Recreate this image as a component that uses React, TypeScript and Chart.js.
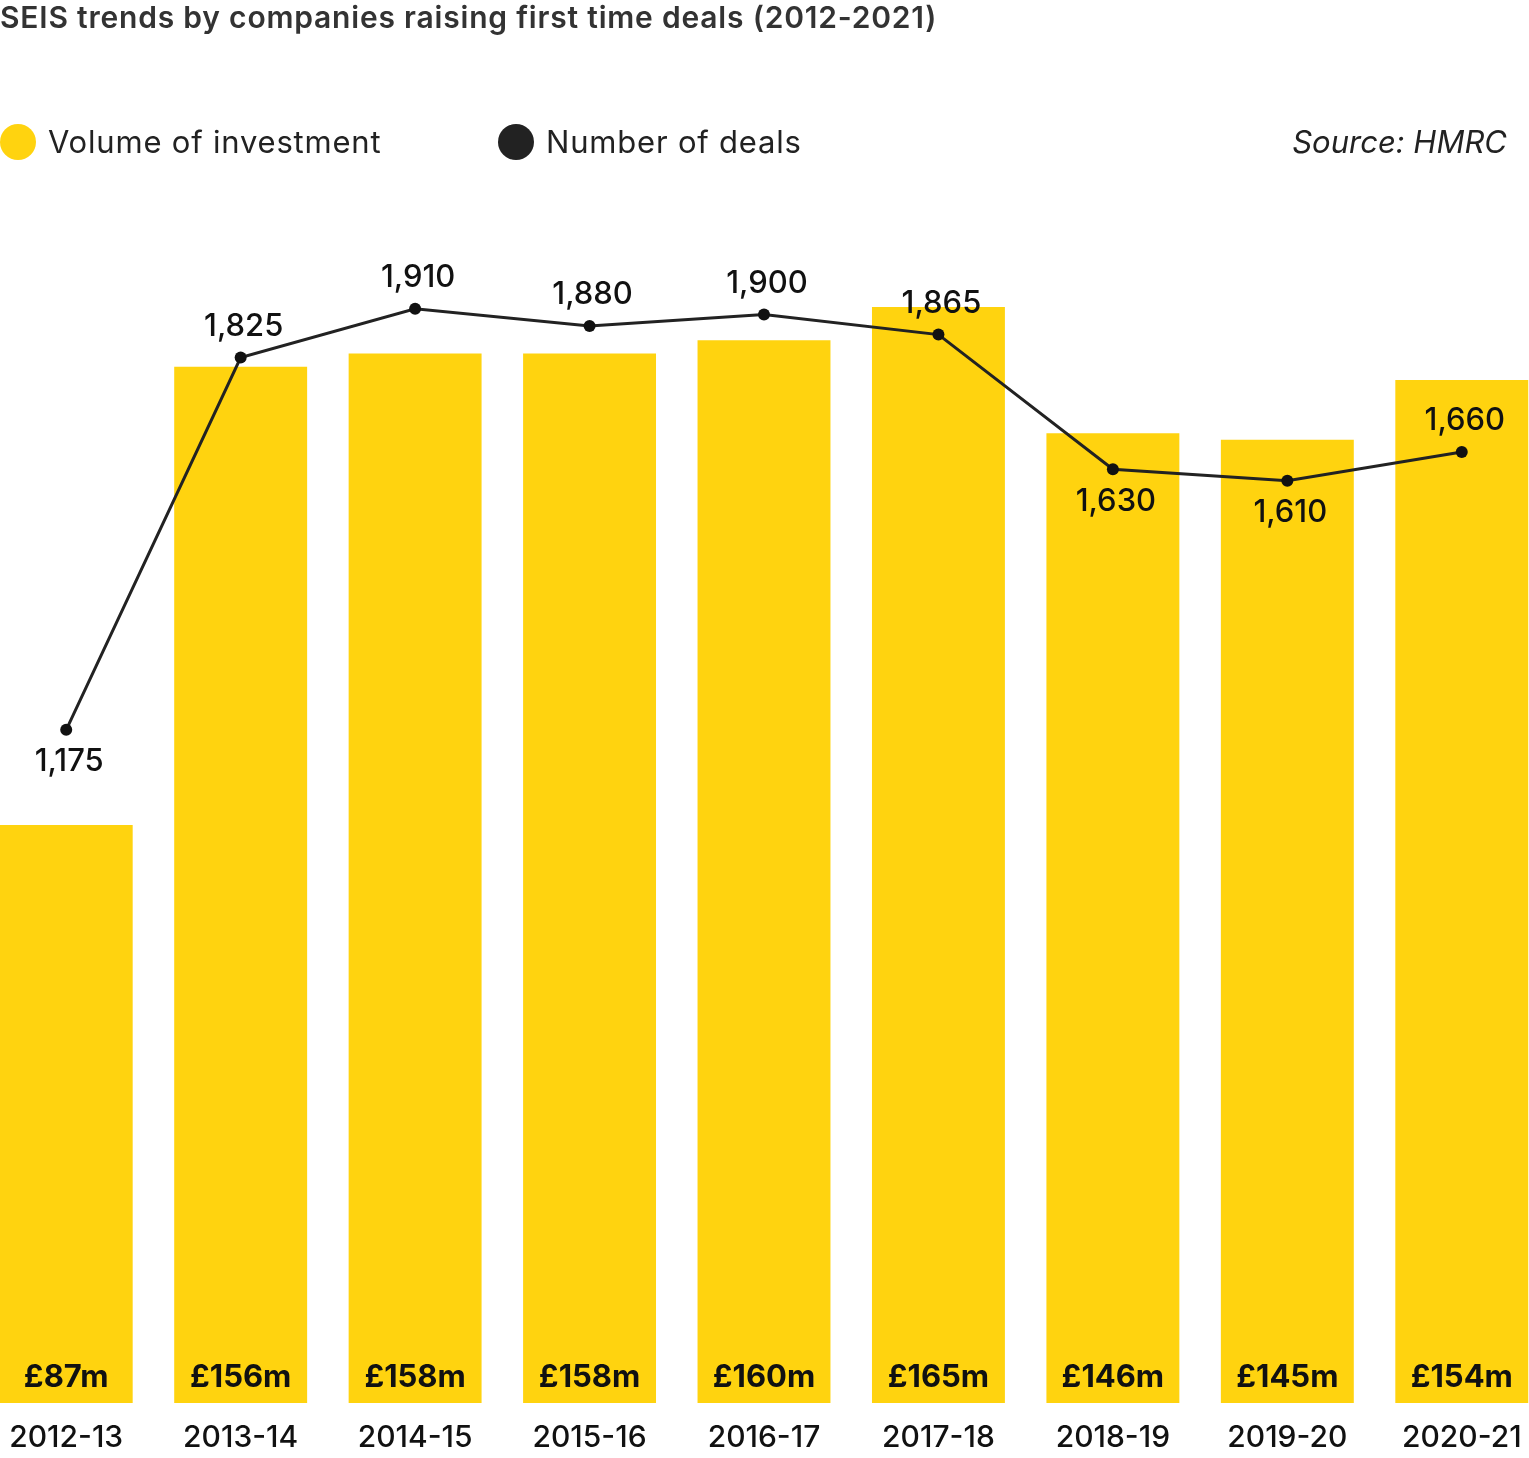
import React, { useEffect, useRef } from "react";
import { Chart, registerables } from "chart.js";
Chart.register(...registerables);

const categories = ["2012-13","2013-14","2014-15","2015-16","2016-17","2017-18","2018-19","2019-20","2020-21"];
const investment = [87,156,158,158,160,165,146,145,154];
const deals = [1175,1825,1910,1880,1900,1865,1630,1610,1660];
const dealLabelBelow = [true,false,false,false,false,false,true,true,false];

const FONT = "Inter, 'Open Sans', sans-serif";

export default function App() {
  const ref = useRef<HTMLCanvasElement>(null);
  useEffect(() => {
    document.body.style.margin = "0";
    document.body.style.overflow = "hidden";
    const labelsPlugin = {
      id: "labels",
      afterDatasetsDraw(chart: any) {
        const ctx = chart.ctx;
        ctx.save();
        ctx.textAlign = "center";
        ctx.textBaseline = "middle";
        ctx.fillStyle = "#111";
        const bars = chart.getDatasetMeta(0).data;
        const pts = chart.getDatasetMeta(1).data;
        const bottom = chart.chartArea.bottom;
        bars.forEach((b: any, i: number) => {
          ctx.font = `bold 31px ${FONT}`;
          ctx.fillText(`£${investment[i]}m`, b.x, bottom - 25);
          ctx.font = `500 30px ${FONT}`;
          ctx.fillText(categories[i], b.x, bottom + 35);
        });
        ctx.font = `500 31px ${FONT}`;
        pts.forEach((p: any, i: number) => {
          const dy = dealLabelBelow[i] ? 32 : -31;
          ctx.fillText(deals[i].toLocaleString("en-GB"), p.x + 3, p.y + dy);
        });
        ctx.restore();
      },
    };
    const chart = new Chart(ref.current!, {
      type: "bar",
      data: {
        labels: categories,
        datasets: [
          { type: "bar", label: "Volume of investment", data: investment, yAxisID: "y", backgroundColor: "#FFD30F", barPercentage: 0.762, categoryPercentage: 1, order: 1 },
          { type: "line", label: "Number of deals", data: deals, yAxisID: "y2", borderColor: "#222", borderWidth: 3, pointRadius: 6, pointBackgroundColor: "#111", pointBorderWidth: 0, order: 0 } as any,
        ],
      },
      options: {
        animation: false,
        responsive: false,
        layout: { padding: { top: 220, bottom: 55, left: 0, right: 0 } },
        plugins: { legend: { display: false }, tooltip: { enabled: false } },
        scales: {
          x: { display: false, offset: true },
          y: { display: false, min: 0, max: 178.1 },
          y2: { display: false, min: 0, max: 2065 },
        },
      },
      plugins: [labelsPlugin],
    });
    return () => chart.destroy();
  }, []);
  const txt: React.CSSProperties = { position: "absolute", fontFamily: FONT, color: "#222", whiteSpace: "nowrap" };
  return (
    <div style={{ position: "relative", width: 1529, height: 1458, overflow: "hidden", background: "#fff" }}>
      <canvas ref={ref} width={1582} height={1458} style={{ position: "absolute", left: -27, top: 0, width: 1582, height: 1458 }} />
      <div style={{ ...txt, left: 0, top: -1, fontSize: 30, fontWeight: 600, color: "#333", letterSpacing: 0.8 }}>SEIS trends by companies raising first time deals (2012-2021)</div>
      <div style={{ ...txt, left: 0, top: 123, fontSize: 31, display: "flex", alignItems: "center", letterSpacing: 0.8 }}>
        <span style={{ width: 36, height: 36, borderRadius: 18, background: "#FFD30F", display: "inline-block", marginRight: 12 }} />Volume of investment
      </div>
      <div style={{ ...txt, left: 498, top: 123, fontSize: 31, display: "flex", alignItems: "center", letterSpacing: 0.8 }}>
        <span style={{ width: 36, height: 36, borderRadius: 18, background: "#222", display: "inline-block", marginRight: 12 }} />Number of deals
      </div>
      <div style={{ ...txt, right: 22, top: 123, fontSize: 31, fontStyle: "italic" }}>Source: HMRC</div>
    </div>
  );
}
